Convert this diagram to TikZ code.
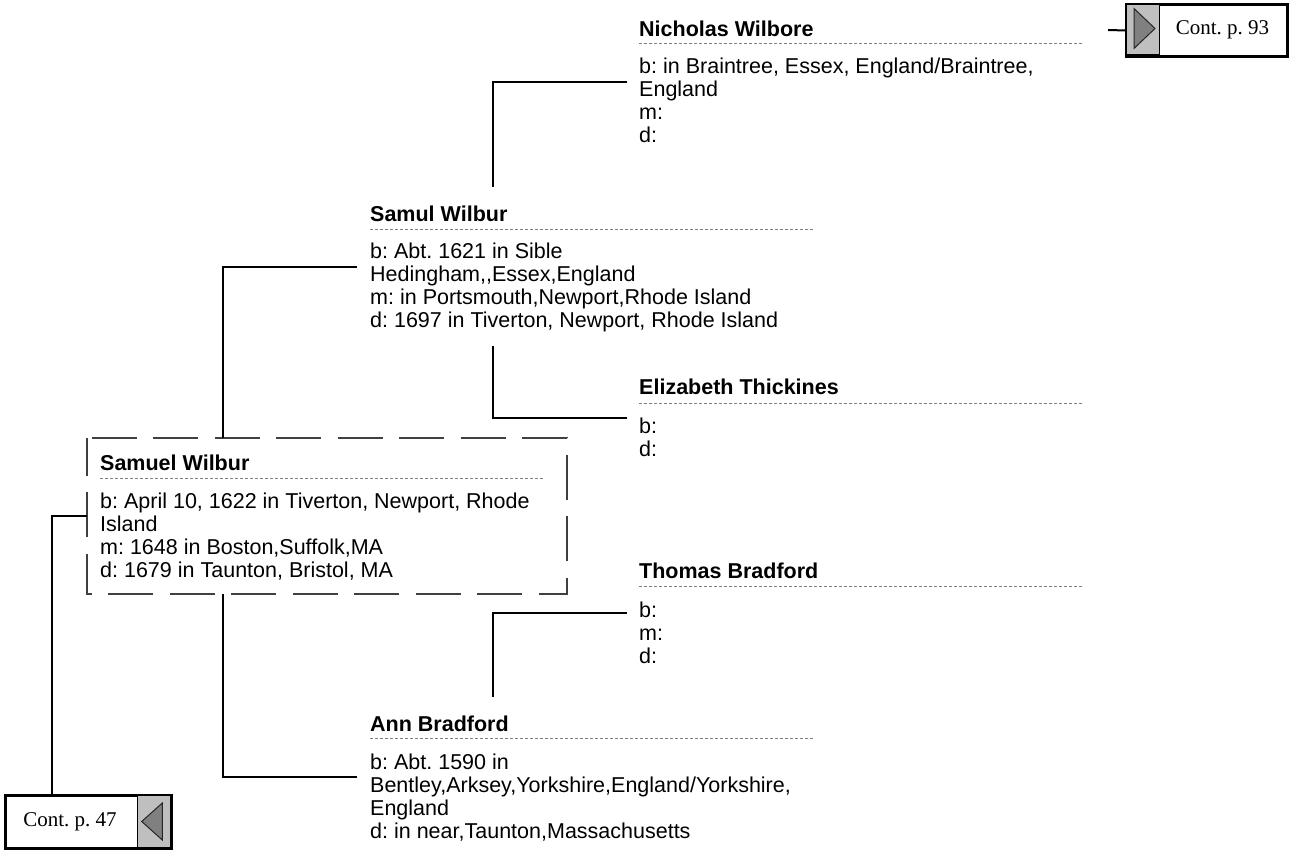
\documentclass[tikz,border=0pt]{standalone}
\usepackage{fontspec}
\setmainfont{Liberation Sans}
\newfontfamily\tnr{Liberation Serif}
\frenchspacing
\begin{document}
\begin{tikzpicture}[x=1pt,y=-1pt,
  pname/.style={font=\bfseries\fontsize{21.5}{23}\selectfont, inner sep=0pt, anchor=base west},
  pdet/.style={font=\fontsize{21.5}{23}\selectfont, align=left, inner sep=0pt, anchor=base west},
  sepline/.style={draw=black!50, line width=0.8pt, dash pattern=on 3pt off 2pt},
  conn/.style={draw=black, line width=2pt},
  dashbox/.style={draw=black!75, line width=1.5pt, dash pattern=on 45pt off 16.5pt, dash phase=57pt},
  contbox/.style={draw=black, line width=2pt, fill=white},
  contgray/.style={draw=black, line width=1pt, fill=black!25},
  conttri/.style={draw=black!85, line width=1pt, fill=black!50},
  conttext/.style={font=\tnr\fontsize{21}{24}\selectfont, inner sep=0pt}
]
\useasboundingbox (0,0) rectangle (1291,850);

% (detail nodes are anchored at the baseline of their LAST line)

% Nicholas Wilbore
\node[pname] (nicN) at (639,36.5) {Nicholas Wilbore};
\draw[sepline] (639,43.5) -- (1083,43.5);
\node[pdet] (nicD) at (639,142.5) {b: in Braintree, Essex, England/Braintree,\\England\\m:\\d:};

% Samul Wilbur
\node[pname] (samulN) at (370,221.7) {Samul Wilbur};
\draw[sepline] (370,229) -- (813,229);
\node[pdet] (samulD) at (370,328) {b: Abt. 1621 in Sible\\Hedingham,{},Essex,England\\m: in Portsmouth,Newport,Rhode Island\\d: 1697 in Tiverton, Newport, Rhode Island};

% Elizabeth Thickines
\node[pname] (elizN) at (639,395) {Elizabeth Thickines};
\draw[sepline] (639,403.5) -- (1083,403.5);
\node[pdet] (elizD) at (639,456.5) {b:\\d:};

% Samuel Wilbur (dashed box)
\draw[dashbox] (87,438) -- (567,438) -- (567,594) -- (87,594) -- cycle;
\node[pname] (samN) at (100,470) {Samuel Wilbur};
\draw[sepline] (100,478.3) -- (543,478.3);
\node[pdet] (samD) at (100,577.7) {b: April 10, 1622 in Tiverton, Newport, Rhode\\Island\\m: 1648 in Boston,Suffolk,MA\\d: 1679 in Taunton, Bristol, MA};

% Thomas Bradford
\node[pname] (thoN) at (639,578.3) {Thomas Bradford};
\draw[sepline] (639,586.5) -- (1083,586.5);
\node[pdet] (thoD) at (639,663) {b:\\m:\\d:};

% Ann Bradford
\node[pname] (annN) at (370,731.7) {Ann Bradford};
\draw[sepline] (370,738.5) -- (813,738.5);
\node[pdet] (annD) at (370,838) {b: Abt. 1590 in\\Bentley,Arksey,Yorkshire,England/Yorkshire,\\England\\d: in near,Taunton,Massachusetts};

% Cont. p. 93
\node[contbox, minimum width=160pt, minimum height=51pt, anchor=north west] (cont93) at (1126,4) {};
\draw[contgray] (1126,4) rectangle (1159,55);
\draw[contbox, fill=none] (cont93.north west) rectangle (cont93.south east);
\draw[conttri] (1134,8.5) -- (1155,28.5) -- (1134,48.5) -- cycle;
\node[conttext] (cont93t) at (1222.5,30) {Cont. p. 93};

% Cont. p. 47
\node[contbox, minimum width=165pt, minimum height=52pt, anchor=north west] (cont47) at (5,795) {};
\draw[contgray] (137,795) rectangle (170,847);
\draw[contbox, fill=none] (cont47.north west) rectangle (cont47.south east);
\draw[conttri] (162.3,803) -- (141.7,821.5) -- (162.3,840) -- cycle;
\node[conttext] (cont47t) at (70,822) {Cont. p. 47};

% connector end points
\coordinate (samulTop) at (493,187);
\coordinate (nicIn) at (627,82);
\coordinate (samulBot) at (493,346);
\coordinate (elizIn) at (627,418);
\coordinate (boxTop) at (223,438);
\coordinate (samulIn) at (357,267);
\coordinate (boxBot) at (223,594);
\coordinate (annIn) at (357,777);
\coordinate (annTop) at (493,697);
\coordinate (thoIn) at (627,613);
\coordinate (boxLeft) at (87,516);
\coordinate (nicOut) at (1108,30);

\draw[conn] (samulTop) |- (nicIn);
\draw[conn] (samulBot) |- (elizIn);
\draw[conn] (boxTop) |- (samulIn);
\draw[conn] (boxBot) |- (annIn);
\draw[conn] (annTop) |- (thoIn);
\draw[conn] (boxLeft) -| (cont47.north -| 52,0);
\draw[conn] (nicOut) -- (cont93.west);
\end{tikzpicture}
\end{document}
